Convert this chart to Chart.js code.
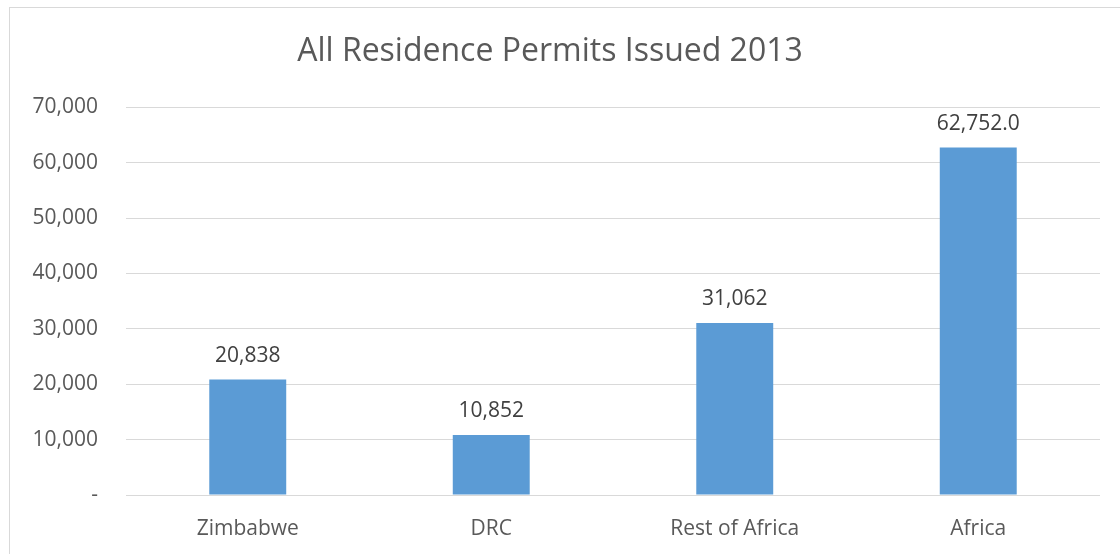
<!DOCTYPE html>
<html>
<head>
<meta charset="utf-8">
<script src="https://cdn.jsdelivr.net/npm/chart.js@4"></script>
<style>
  html, body { margin: 0; padding: 0; background: #fff; }
  body { width: 1120px; height: 554px; position: relative; overflow: hidden; }
  #frame { position: absolute; left: 9px; top: 7px; width: 1130px; height: 570px; border: 1px solid #d9d9d9; box-sizing: border-box; }
  #chart { position: absolute; left: 0; top: 0; }
</style>
</head>
<body>
<div id="frame"></div>
<canvas id="chart" width="1120" height="554"></canvas>
<script>
const categories = ['Zimbabwe', 'DRC', 'Rest of Africa', 'Africa'];
const permits = [20838, 10852, 31062, 62752];
const valueLabels = ['20,838', '10,852', '31,062', '62,752.0'];
const yTicks = [0, 10000, 20000, 30000, 40000, 50000, 60000, 70000];

const FONT = '"Open Sans", sans-serif';

// draws the value above each bar
const barLabels = {
  id: 'barLabels',
  afterDatasetsDraw(chart) {
    const ctx = chart.ctx;
    const meta = chart.getDatasetMeta(0);
    ctx.save();
    ctx.font = '21px ' + FONT;
    ctx.fillStyle = '#404040';
    ctx.textAlign = 'center';
    ctx.textBaseline = 'alphabetic';
    meta.data.forEach((bar, i) => {
      ctx.fillText(valueLabels[i], bar.x, bar.y - 18);
    });
    ctx.restore();
  }
};

new Chart(document.getElementById('chart'), {
  type: 'bar',
  data: {
    labels: categories,
    datasets: [{
      data: permits,
      backgroundColor: '#5b9bd5',
      categoryPercentage: 1,
      barPercentage: 0.316
    }]
  },
  plugins: [barLabels],
  options: {
    responsive: false,
    animation: false,
    layout: { padding: { left: 0, right: 20, top: 0, bottom: 0 } },
    plugins: {
      legend: { display: false },
      tooltip: { enabled: false },
      title: {
        display: true,
        text: 'All Residence Permits Issued 2013',
        color: '#595959',
        font: { family: FONT, size: 32, weight: 'normal' },
        padding: { top: 33, bottom: 36 }
      }
    },
    scales: {
      x: {
        afterFit(scale) { scale.height = 59; },
        grid: { display: false },
        border: { display: false },
        ticks: { color: '#595959', font: { family: FONT, size: 21 }, padding: 13 }
      },
      y: {
        min: 0,
        max: 70000,
        afterFit(scale) { scale.width = 126; },
        afterBuildTicks(scale) { scale.ticks = yTicks.map(v => ({ value: v })); },
        grid: { color: '#d9d9d9', lineWidth: 1, drawTicks: false },
        border: { display: false },
        ticks: {
          color: '#595959',
          font: { family: FONT, size: 21 },
          padding: 28,
          callback: v => v === 0 ? '-' : v.toLocaleString('en-US')
        }
      }
    }
  }
});
</script>
</body>
</html>
